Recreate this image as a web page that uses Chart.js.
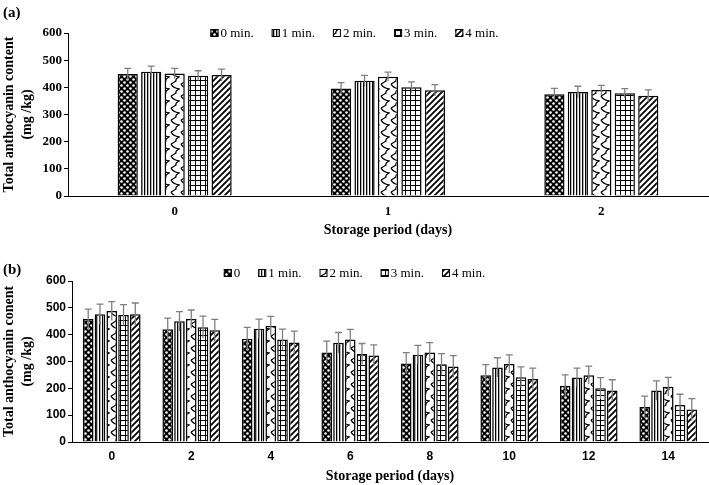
<!DOCTYPE html>
<html>
<head>
<meta charset="utf-8">
<script src="https://cdn.jsdelivr.net/npm/chart.js@4.4.1/dist/chart.umd.min.js"></script>
<style>
  body { margin: 0; background: #fff; width: 709px; height: 485px; position: relative; overflow: hidden; }
  .panel { position: absolute; left: 0; width: 709px; }
  .tag { position: absolute; left: 3px; font: bold 15px "Liberation Serif", serif; color: #000; }
</style>
</head>
<body>
<div class="panel" style="top:0;height:240px"><canvas id="chartA" width="709" height="240"></canvas></div>
<div class="panel" style="top:240px;height:245px"><canvas id="chartB" width="709" height="245"></canvas></div>
<div class="tag" style="top:4px">(a)</div>
<div class="tag" style="top:261px">(b)</div>
<script>
// ---- panel (a): storage days 0-2
const daysA = ['0', '1', '2'];
const seriesNamesA = ['0 min.', '1 min.', '2 min.', '3 min.', '4 min.'];
const a0 = [449, 396, 375];
const a1 = [457, 424, 383];
const a2 = [451, 439, 390];
const a3 = [443, 400, 378];
const a4 = [445, 389, 369];
const errA0 = [21, 21, 21];
const errA1 = [21, 20, 21];
const errA2 = [19, 17, 17];
const errA3 = [18, 20, 17];
const errA4 = [22, 21, 22];

// ---- panel (b): storage days 0-14
const daysB = ['0', '2', '4', '6', '8', '10', '12', '14'];
const seriesNamesB = ['0', '1 min.', '2 min.', '3 min.', '4 min.'];
const b0 = [458, 420, 385, 334, 293, 249, 210, 130];
const b1 = [476, 450, 422, 370, 325, 278, 240, 192];
const b2 = [488, 458, 432, 382, 334, 291, 249, 206];
const b3 = [473, 428, 382, 328, 290, 241, 200, 138];
const b4 = [476, 416, 371, 322, 281, 235, 192, 121];
const errB0 = [37, 42, 42, 42, 40, 39, 40, 41];
const errB1 = [38, 36, 36, 38, 35, 36, 35, 36];
const errB2 = [35, 34, 36, 38, 36, 34, 34, 35];
const errB3 = [39, 41, 39, 39, 39, 39, 40, 40];
const errB4 = [42, 41, 42, 40, 41, 40, 40, 41];

const yTicks = [0, 100, 200, 300, 400, 500, 600];

// fill patterns, one per dipping time
function makePattern(kind) {
  const c = document.createElement('canvas');
  const sizes = [[6, 6], [3, 3], [10, 12], [5, 5], [6, 6]];
  c.width = sizes[kind][0];
  c.height = sizes[kind][1];
  const g = c.getContext('2d');
  g.fillStyle = '#fff';
  g.fillRect(0, 0, c.width, c.height);
  g.fillStyle = '#000';
  g.strokeStyle = '#000';
  if (kind === 0) {
    g.fillRect(0, 0, 6, 6);
    g.fillStyle = '#fff';
    g.beginPath(); g.arc(1.5, 1.5, 1.3, 0, Math.PI * 2); g.fill();
    g.beginPath(); g.arc(4.5, 4.5, 1.3, 0, Math.PI * 2); g.fill();
  } else if (kind === 1) {
    g.fillRect(0, 0, 1, 3);
    g.fillStyle = '#666';
    g.fillRect(1, 0, 0.5, 3);
  } else if (kind === 2) {
    g.lineWidth = 1.3;
    g.beginPath();
    g.moveTo(1, 0);
    g.quadraticCurveTo(3, 4, 9, 5);
    g.quadraticCurveTo(5, 7, 6, 9);
    g.quadraticCurveTo(3, 11, 1, 12);
    g.stroke();
  } else if (kind === 3) {
    g.fillRect(0, 0, 1, 5);
    g.fillRect(0, 0, 5, 1);
  } else {
    g.lineWidth = 1.8;
    g.beginPath();
    g.moveTo(-1, 7); g.lineTo(7, -1);
    g.moveTo(-4, 4); g.lineTo(4, -4);
    g.moveTo(2, 10); g.lineTo(10, 2);
    g.stroke();
  }
  return g.createPattern(c, 'repeat');
}
const patterns = [0, 1, 2, 3, 4].map(makePattern);

// error bars on top of each bar, from the dataset's errors array
const errorBars = {
  id: 'errorBars',
  afterDatasetsDraw(chart) {
    const ctx = chart.ctx;
    const y = chart.scales.y;
    ctx.save();
    ctx.strokeStyle = '#808080';
    ctx.lineWidth = 1.3;
    chart.data.datasets.forEach((ds, i) => {
      chart.getDatasetMeta(i).data.forEach((bar, j) => {
        const v = ds.data[j], e = ds.errors[j];
        const top = y.getPixelForValue(v + e);
        const bot = y.getPixelForValue(v - e);
        ctx.beginPath();
        ctx.moveTo(bar.x, top); ctx.lineTo(bar.x, bot);
        ctx.moveTo(bar.x - 3.5, top); ctx.lineTo(bar.x + 3.5, top);
        ctx.stroke();
      });
    });
    ctx.restore();
  }
};

// legend drawn in one row near the top of the panel
const rowLegend = {
  id: 'rowLegend',
  afterDraw(chart, args, opts) {
    const ctx = chart.ctx;
    ctx.save();
    ctx.font = '13px "Liberation Serif"';
    ctx.textBaseline = 'middle';
    const items = chart.data.datasets.map(ds => ds.label);
    const widths = items.map(t => 10 + ctx.measureText(t).width);
    const total = widths.reduce((s, w) => s + w, 0) + 18 * (items.length - 1);
    let x = (chart.width - total) / 2;
    const yc = opts.y;
    chart.data.datasets.forEach((ds, i) => {
      ctx.fillStyle = ds.backgroundColor;
      ctx.fillRect(x, yc - 4, 8, 8);
      ctx.strokeStyle = '#000';
      ctx.lineWidth = 1;
      ctx.strokeRect(x + 0.5, yc - 3.5, 7, 7);
      ctx.fillStyle = '#000';
      ctx.fillText(ds.label, x + 10, yc + 1);
      x += widths[i] + 18;
    });
    ctx.restore();
  }
};

function buildChart(id, cats, names, values, errors, cfg) {
  const datasets = values.map((vals, i) => ({
    label: names[i],
    data: vals,
    errors: errors[i],
    backgroundColor: patterns[i],
    borderColor: '#000',
    borderWidth: 1.5,
    categoryPercentage: cfg.catPct,
    barPercentage: cfg.barPct
  }));
  return new Chart(document.getElementById(id), {
    type: 'bar',
    data: { labels: cats, datasets },
    plugins: [errorBars, rowLegend],
    options: {
      responsive: false,
      animation: false,
      devicePixelRatio: 1,
      layout: { padding: { top: cfg.top, right: 1, left: 0, bottom: 0 } },
      plugins: {
        legend: { display: false },
        tooltip: { enabled: false },
        rowLegend: { y: cfg.legendY }
      },
      scales: {
        x: {
          offset: true,
          afterFit: s => { s.height = cfg.xHeight; },
          grid: { offset: true, drawOnChartArea: false, drawTicks: false },
          border: { color: '#000', width: 1 },
          ticks: { color: '#000', font: cfg.tickFont, padding: cfg.xTickPad },
          title: {
            display: true, text: 'Storage period (days)', color: '#000',
            font: { family: 'Liberation Serif', size: 14, weight: 'bold' },
            padding: { top: 0, bottom: cfg.xTitlePad }
          }
        },
        y: {
          min: 0, max: 600,
          afterFit: s => { s.width = cfg.yWidth; },
          afterBuildTicks: s => { s.ticks = yTicks.map(v => ({ value: v })); },
          grid: { drawOnChartArea: false, color: '#000', tickLength: 4 },
          border: { color: '#000', width: 1 },
          ticks: { color: '#000', font: cfg.tickFont, padding: 2 },
          title: {
            display: true, text: cfg.yTitle, color: '#000',
            font: { family: 'Liberation Serif', size: 14, weight: 'bold', lineHeight: 1.29 },
            padding: { top: 0, bottom: 0 }
          }
        }
      }
    }
  });
}

buildChart('chartA', daysA, seriesNamesA, [a0, a1, a2, a3, a4],
  [errA0, errA1, errA2, errA3, errA4], {
    top: 33, legendY: 33, yWidth: 68, xHeight: 44, catPct: 0.55, barPct: 0.86,
    tickFont: { family: 'Liberation Serif', size: 13, weight: 'bold' },
    xTickPad: 8, xTitlePad: 1.5,
    yTitle: ['Total anthocyanin content', '(mg /kg)']
  });

buildChart('chartB', daysB, seriesNamesB, [b0, b1, b2, b3, b4],
  [errB0, errB1, errB2, errB3, errB4], {
    top: 41, legendY: 33, yWidth: 72, xHeight: 43, catPct: 0.74, barPct: 0.9,
    tickFont: { family: 'Liberation Sans', size: 12, weight: 'bold' },
    xTickPad: 7, xTitlePad: 0,
    yTitle: ['Total anthocyanin conent', '(mg /kg)']
  });
</script>
</body>
</html>
